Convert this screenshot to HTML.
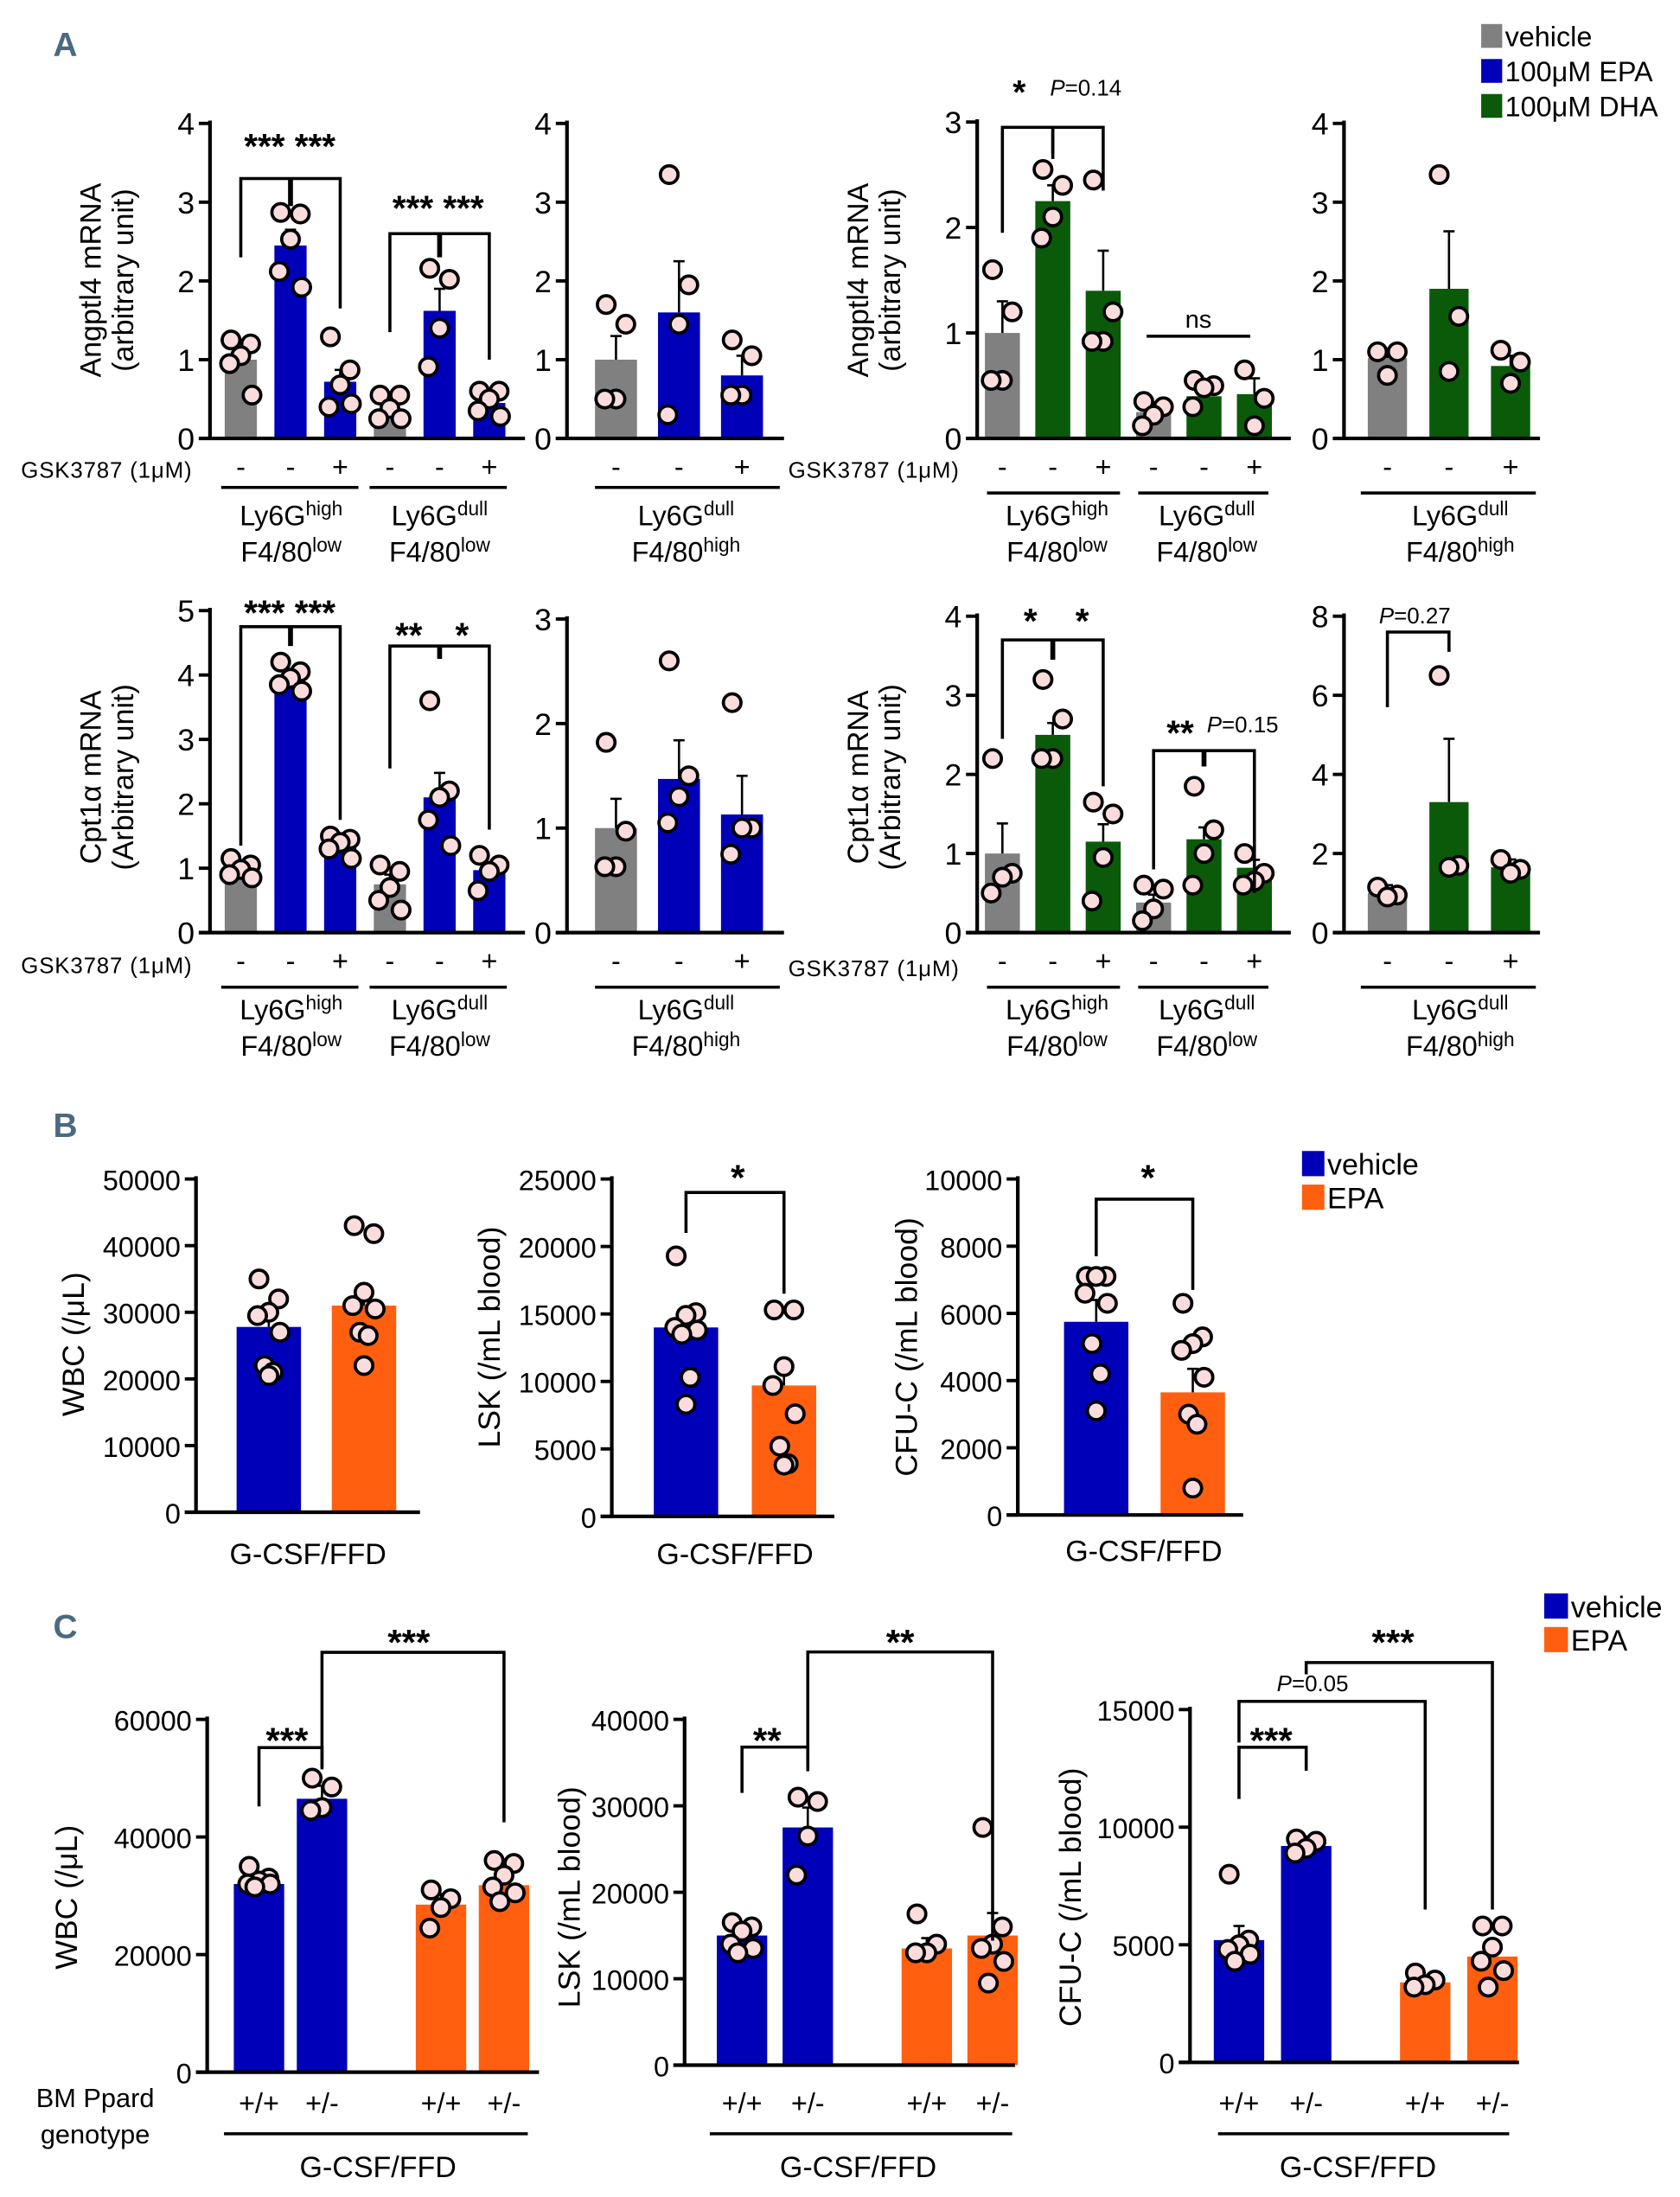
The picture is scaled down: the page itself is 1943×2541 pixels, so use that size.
<!DOCTYPE html>
<html><head><meta charset="utf-8">
<style>
html,body{margin:0;padding:0;background:#fff;}
svg{display:block;font-family:"Liberation Sans",Arial,sans-serif;}
</style></head>
<body>
<svg id="fig" width="1943" height="2541" viewBox="0 0 1200 1569" xmlns="http://www.w3.org/2000/svg">
<text x="38" y="40" font-size="24" font-weight="bold" fill="#4a6a80">A</text>
<text x="38" y="812" font-size="24" font-weight="bold" fill="#4a6a80">B</text>
<text x="38" y="1170" font-size="24" font-weight="bold" fill="#4a6a80">C</text>
</svg>
<script>
// ---------- DATA ----------
const A1_vals=[1.0,2.45,0.72,0.37,1.62,0.45];
const A1_err=[0.12,0.2,0.15,0.06,0.28,0.08];
const A1_pts=[[1.25,1.2,1.05,0.95,0.55],[2.87,2.85,2.53,2.12,1.92],[1.29,0.87,0.68,0.4,0.44],[0.55,0.55,0.38,0.25,0.25],[2.16,2.02,1.4,0.91],[0.6,0.6,0.5,0.35,0.28]];
const A2_vals=[1.0,1.6,0.8];
const A2_err=[0.3,0.65,0.25];
const A2_pts=[[1.7,1.45,0.5,0.5],[3.35,1.95,1.45,0.3],[1.25,1.05,0.55,0.55]];
const A3_vals=[1.0,2.25,1.4,0.25,0.4,0.42];
const A3_err=[0.3,0.15,0.38,0.08,0.06,0.15];
const A3_pts=[[1.6,1.2,0.55,0.55],[2.55,2.4,2.1,1.9],[2.45,1.2,0.92,0.92],[0.35,0.3,0.22,0.12],[0.55,0.5,0.48,0.3],[0.65,0.38,0.12]];
const A4_vals=[1.02,1.9,0.92];
const A4_err=[0.12,0.73,0.13];
const A4_pts=[[1.1,1.1,0.8],[3.35,1.55,0.85],[1.12,0.97,0.7]];
const A5_vals=[1.0,3.85,1.4,0.75,2.1,0.97];
const A5_err=[0.07,0.15,0.08,0.15,0.38,0.12];
const A5_pts=[[1.15,1.05,0.98,0.9,0.85],[4.2,4.05,3.95,3.85,3.75],[1.5,1.45,1.4,1.3,1.15],[1.05,0.95,0.7,0.5,0.35],[3.6,2.2,2.1,1.75,1.35],[1.2,1.05,0.95,0.65]];
const A6_vals=[1.0,1.47,1.13];
const A6_err=[0.28,0.37,0.37];
const A6_pts=[[1.82,0.97,0.63,0.63],[2.6,1.5,1.3,1.05],[2.2,1.0,1.0,0.75]];
const A7_vals=[1.0,2.5,1.15,0.38,1.18,0.82];
const A7_err=[0.38,0.15,0.22,0.1,0.15,0.1];
const A7_pts=[[2.2,0.75,0.7,0.5],[3.2,2.7,2.2,2.2],[1.65,1.5,0.95,0.4],[0.6,0.55,0.3,0.15],[1.85,1.3,1.0,0.6],[1.0,0.75,0.65,0.6]];
const A8_vals=[1.0,3.3,1.65];
const A8_err=[0.2,1.6,0.2];
const A8_pts=[[1.15,0.95,0.9],[6.5,1.7,1.65],[1.85,1.6,1.5]];
const B1_vals=[27800,31000];
const B1_err=[2200,2500];
const B1_pts=[[35000,32000,30000,29500,27000,22000,21000,20500],[43000,41800,33000,31000,30500,27000,26500,22000]];
const B2_vals=[14000,9700];
const B2_err=[1200,1700];
const B2_pts=[[19300,15100,14900,14000,13800,13500,10300,8300],[15300,15300,11100,9700,7600,5200,3900,3800]];
const B3_vals=[5750,3650];
const B3_err=[650,700];
const B3_pts=[[7100,7100,7100,6600,6300,5100,4200,3100],[6300,5300,5100,4900,4100,3000,2700,800]];
const C1_vals=[32000,46500,28500,31800];
const C1_err=[1500,2200,1800,1600];
const C1_pts=[[35000,33000,32500,32000,32000,31500],[50000,48500,45000,44500],[31000,29500,28000,24500],[36000,35500,33500,31500,30500,29000]];
const C2_vals=[15000,27500,13500,15000];
const C2_err=[1000,2300,1200,2600];
const C2_pts=[[16500,16000,15500,14000,13500,13000],[31000,30500,26500,22000],[17500,14000,13000,13000],[27500,16000,14000,13500,12000,9500]];
const C3_vals=[5200,9200,3400,4500];
const C3_err=[600,400,200,600];
const C3_pts=[[8000,5200,5000,4800,4600,4300],[9500,9400,9100,8900],[3800,3500,3300,3200],[5800,5800,4900,4300,3900,3200]];
const ticksA4=[0,1,2,3,4], ticksA3=[0,1,2,3], ticksA5=[0,1,2,3,4,5], ticksA8=[0,2,4,6,8];
const ticksB1=[0,10000,20000,30000,40000,50000], ticksB2=[0,5000,10000,15000,20000,25000], ticksB3=[0,2000,4000,6000,8000,10000];
const ticksC1=[0,20000,40000,60000], ticksC2=[0,10000,20000,30000,40000], ticksC3=[0,5000,10000,15000];
const gsk6=['-','-','+','-','-','+'], gsk3=['-','-','+'], geno=['+/+','+/-','+/+','+/-'];

// ---------- DRAW ----------
const NS='http://www.w3.org/2000/svg';
const svg=document.getElementById('fig');
const GRAY='#808080',BLUE='#0000b8',GREEN='#0a5a0a',ORANGE='#ff5f0f';
function mk(tag,attrs,parent){const e=document.createElementNS(NS,tag);for(const k in attrs)e.setAttribute(k,attrs[k]);(parent||svg).appendChild(e);return e;}
function txt(x,y,s,size,anchor,parent,extra){const t=mk('text',Object.assign({x:x,y:y,'font-size':size,'text-anchor':anchor||'middle'},extra||{}),parent);t.textContent=s;return t;}
const jit=[-7,7,0,-8,8,-3,3,0];

function panel(id,L,vals,err,pts,ticks,colors){
  const g=mk('g',{});
  
  
  const ys=v=>L.y0-(v/L.max)*(L.y0-L.top);
  const xs=i=>L.x0+i*L.step+(L.gapAt!==undefined&&i>=L.gapAt?L.gap:0);
  const ax=mk('line',{x1:L.ox,y1:L.top-2,x2:L.ox,y2:L.y0,stroke:'#000','stroke-width':2.6},g);
  
  
  ticks.forEach(t=>{
    mk('line',{x1:L.ox-8,y1:ys(t),x2:L.ox,y2:ys(t),stroke:'#000','stroke-width':2.4},g);
    const tl=txt(L.ox-11,ys(t)+8,String(t),L.tfs||22,'end',g);
    
    
  });
  vals.forEach((v,i)=>{
    const x=xs(i);
    const r=mk('rect',{x:x-L.bw/2,y:ys(v),width:L.bw,height:L.y0-ys(v),fill:colors[i]},g);
    
    
    mk('line',{x1:x,y1:ys(v),x2:x,y2:ys(v+err[i]),stroke:'#000','stroke-width':1.6},g);
    mk('line',{x1:x-4,y1:ys(v+err[i]),x2:x+4,y2:ys(v+err[i]),stroke:'#000','stroke-width':1.6},g);
  });
  const xa=mk('line',{x1:L.ox-8,y1:L.y0,x2:L.xend,y2:L.y0,stroke:'#000','stroke-width':2.6},g);
  
  
  pts.forEach((arr,i)=>{arr.forEach((p,j)=>{
    const c=mk('circle',{cx:xs(i)+jit[j%jit.length],cy:ys(p),r:6.3,fill:'#fadcdc',stroke:'#000','stroke-width':2.3},g);
    
    
  });});
  (L.brackets||[]).forEach(b=>{
    const xa_=xs(b[0]),xb=xs(b[1]),yt=ys(b[2]);
    mk('path',{d:`M${xa_},${ys(b[3])}V${yt}H${xb}V${ys(b[4])}`,fill:'none',stroke:'#000','stroke-width':2.2},g);
    if(b[5]!==undefined) mk('line',{x1:xs(b[5]),y1:yt,x2:xs(b[5]),y2:ys(b[6]),stroke:'#000','stroke-width':3.5},g);
  });
  if(L.ytitle){
    const tg=mk('text',{transform:`translate(${L.ytx},${L.yty}) rotate(-90)`,'font-size':L.ytfs||21,'text-anchor':'middle'},g);
    
    
    L.ytitle.forEach((s,k)=>{const ts=mk('tspan',{x:0,dy:k?23:0},tg);ts.textContent=s;});
  }
  if(L.signs) L.signs.forEach((s,i)=>txt(xs(i),L.signY,s,20,'middle',g));
  return {g,xs,ys};
}
function ly6(g,x,y,a,b){
  const t1=mk('text',{x:x,y:y,'font-size':20,'text-anchor':'middle'},g);
  let s=mk('tspan',{},t1);s.textContent='Ly6G';s=mk('tspan',{'font-size':14,dy:-7},t1);s.textContent=a;
  const t2=mk('text',{x:x,y:y+26,'font-size':20,'text-anchor':'middle'},g);
  s=mk('tspan',{},t2);s.textContent='F4/80';s=mk('tspan',{'font-size':14,dy:-7},t2);s.textContent=b;
  
  
}
function hline(g,x1,x2,y){mk('line',{x1:x1,y1:y,x2:x2,y2:y,stroke:'#000','stroke-width':2.2},g);}
function ptext(g,x,y,val,size){const t=txt(x,y,'',size||16,'start',g);let ts=mk('tspan',{'font-style':'italic'},t);ts.textContent='P';ts=mk('tspan',{},t);ts.textContent=val;}
const B={'font-weight':'bold'};

const c6A=[GRAY,BLUE,BLUE,GRAY,BLUE,BLUE], c3A=[GRAY,BLUE,BLUE];
const c6D=[GRAY,GREEN,GREEN,GRAY,GREEN,GREEN], c3D=[GRAY,GREEN,GREEN];

// A1
let p=panel('chart-a1-angptl4-epa',{ox:150,y0:313,top:88,max:4,x0:172,step:35.5,bw:23,xend:375,signY:340,signs:gsk6,
 ytitle:['Angptl4 mRNA','(arbitrary unit)'],ytx:72,yty:200,
 brackets:[[0,2,3.3,2.3,1.65,1,2.95],[3,5,2.6,1.35,1.0,4,2.3]]},A1_vals,A1_err,A1_pts,ticksA4,c6A);
txt(207,113,'*** ***',25,'middle',p.g,B);
txt(313,157,'*** ***',25,'middle',p.g,B);
txt(15,341,'GSK3787 (1μM)',16,'start',p.g,{'letter-spacing':'0.5'});
hline(p.g,158,256,348);hline(p.g,264,362,348);
ly6(p.g,208,375,'high','low');ly6(p.g,314,375,'dull','low');
// A2
p=panel('chart-a2-angptl4-epa',{ox:405,y0:313,top:88,max:4,x0:440,step:45,bw:30,xend:560,signY:340,signs:gsk3},A2_vals,A2_err,A2_pts,ticksA4,c3A);
hline(p.g,425,557,348);ly6(p.g,490,375,'dull','high');
// A3
p=panel('chart-a3-angptl4-dha',{ox:698,y0:313,top:87,max:3,x0:716,step:36,bw:25,xend:922,signY:340,signs:gsk6,
 ytitle:['Angptl4 mRNA','(arbitrary unit)'],ytx:620,yty:200,
 brackets:[[0,1,2.95,1.95,2.65],[1,2,2.95,2.7,2.35]]},A3_vals,A3_err,A3_pts,ticksA3,c6D);
hline(p.g,819,893,240);txt(856,234,'ns',18,'middle',p.g);
txt(728,74,'*',24,'middle',p.g,B);
ptext(p.g,750,68,'=0.14');
txt(563,341,'GSK3787 (1μM)',16,'start',p.g,{'letter-spacing':'0.5'});
hline(p.g,705,800,352);hline(p.g,813,906,352);
ly6(p.g,755,375,'high','low');ly6(p.g,862,375,'dull','low');
// A4
p=panel('chart-a4-angptl4-dha',{ox:960,y0:313,top:88,max:4,x0:991,step:44,bw:28,xend:1100,signY:340,signs:gsk3},A4_vals,A4_err,A4_pts,ticksA4,c3D);
hline(p.g,972,1097,352);ly6(p.g,1043,375,'dull','high');
const lgA=mk('g',{});
[[GRAY,'vehicle',17],[BLUE,'100μM EPA',42],[GREEN,'100μM DHA',67]].forEach(e=>{mk('rect',{x:1058,y:e[2],width:15,height:17,fill:e[0]},lgA);txt(1075,e[2]+16,e[1],20,'start',lgA);});
// A5
p=panel('chart-a5-cpt1a-epa',{ox:150,y0:666,top:436,max:5,x0:172,step:35.5,bw:23,xend:375,signY:693,signs:gsk6,
 ytitle:['Cpt1α mRNA','(Arbitrary unit)'],ytx:72,yty:555,
 brackets:[[0,2,4.75,1.35,1.75,1,4.45],[3,5,4.45,2.55,1.6,4,4.25]]},A5_vals,A5_err,A5_pts,ticksA5,c6A);
txt(207,446,'*** ***',25,'middle',p.g,B);
txt(292,462,'**',25,'middle',p.g,B);txt(330,462,'*',25,'middle',p.g,B);
txt(15,695,'GSK3787 (1μM)',16,'start',p.g,{'letter-spacing':'0.5'});
hline(p.g,158,256,705);hline(p.g,264,362,705);
ly6(p.g,208,728,'high','low');ly6(p.g,314,728,'dull','low');
// A6
p=panel('chart-a6-cpt1a-epa',{ox:405,y0:666,top:442,max:3,x0:440,step:45,bw:30,xend:560,signY:693,signs:gsk3},A6_vals,A6_err,A6_pts,ticksA3,c3A);
hline(p.g,425,557,705);ly6(p.g,490,728,'dull','high');
// A7
p=panel('chart-a7-cpt1a-dha',{ox:698,y0:666,top:440,max:4,x0:716,step:36,bw:25,xend:922,signY:693,signs:gsk6,
 ytitle:['Cpt1α mRNA','(Arbitrary unit)'],ytx:620,yty:555,
 brackets:[[0,2,3.7,2.45,1.85,1,3.45],[3,5,2.3,0.8,0.5,4,2.1]]},A7_vals,A7_err,A7_pts,ticksA4,c6D);
txt(736,452,'*',25,'middle',p.g,B);txt(773,452,'*',25,'middle',p.g,B);
txt(843,532,'**',25,'middle',p.g,B);
ptext(p.g,862,523,'=0.15');
txt(563,697,'GSK3787 (1μM)',16,'start',p.g,{'letter-spacing':'0.5'});
hline(p.g,705,800,705);hline(p.g,813,906,705);
ly6(p.g,755,728,'high','low');ly6(p.g,862,728,'dull','low');
// A8
p=panel('chart-a8-cpt1a-dha',{ox:960,y0:666,top:440,max:8,x0:991,step:44,bw:28,xend:1100,signY:693,signs:gsk3,
 brackets:[[0,1,7.6,5.7,7.1]]},A8_vals,A8_err,A8_pts,ticksA8,c3D);
ptext(p.g,985,445,'=0.27');
hline(p.g,972,1097,705);ly6(p.g,1043,728,'dull','high');

// B
const cB=[BLUE,ORANGE];
p=panel('chart-b1-wbc',{ox:140,y0:1080,top:842,max:50000,x0:192,step:68,bw:46,xend:300,tfs:20,
 ytitle:['WBC (/μL)'],ytx:60,yty:960,ytfs:22},B1_vals,B1_err,B1_pts,ticksB1,cB);
txt(220,1117,'G-CSF/FFD',21,'middle',p.g);
p=panel('chart-b2-lsk',{ox:437,y0:1083,top:842,max:25000,x0:490,step:70,bw:46,xend:596,tfs:20,
 ytitle:['LSK (/mL blood)'],ytx:357,yty:955,ytfs:22,brackets:[[0,1,24000,21000,16500]]},B2_vals,B2_err,B2_pts,ticksB2,cB);
txt(527,850,'*',26,'middle',p.g,B);
txt(525,1117,'G-CSF/FFD',21,'middle',p.g);
p=panel('chart-b3-cfuc',{ox:727,y0:1082,top:842,max:10000,x0:783,step:69,bw:46,xend:888,tfs:20,
 ytitle:['CFU-C  (/mL blood)'],ytx:655,yty:962,ytfs:22,brackets:[[0,1,9400,7700,6700]]},B3_vals,B3_err,B3_pts,ticksB3,cB);
txt(820,850,'*',26,'middle',p.g,B);
txt(817,1115,'G-CSF/FFD',21,'middle',p.g);
const lgB=mk('g',{});
[[BLUE,'vehicle',822],[ORANGE,'EPA',846]].forEach(e=>{mk('rect',{x:930,y:e[2],width:16,height:18,fill:e[0]},lgB);txt(948,e[2]+17,e[1],21,'start',lgB);});

// C
const cC=[BLUE,BLUE,ORANGE,ORANGE];
p=panel('chart-c1-wbc',{ox:148,y0:1480,top:1228,max:60000,x0:185,step:45,bw:36,gapAt:2,gap:40,xend:385,tfs:20,signY:1509,signs:geno,
 ytitle:['WBC (/μL)'],ytx:55,yty:1355,ytfs:22,
 brackets:[[0,1,55200,45200,51800],[1,3,71400,51500,42500]]},C1_vals,C1_err,C1_pts,ticksC1,cC);
txt(205,1252,'***',26,'middle',p.g,B);txt(292,1182,'***',26,'middle',p.g,B);
hline(p.g,160,377,1524);txt(270,1555,'G-CSF/FFD',21,'middle',p.g);
txt(68,1505,'BM Ppard',19,'middle',p.g);txt(68,1531,'genotype',19,'middle',p.g);
p=panel('chart-c2-lsk',{ox:489,y0:1475,top:1228,max:40000,x0:530,step:47,bw:36,gapAt:2,gap:38,xend:725,tfs:20,signY:1509,signs:geno,
 ytitle:['LSK (/mL blood)'],ytx:414,yty:1355,ytfs:22,
 brackets:[[0,1,36800,31500,34000],[1,3,47800,35000,14400]]},C2_vals,C2_err,C2_pts,ticksC2,cC);
txt(548,1252,'**',26,'middle',p.g,B);txt(643,1182,'**',26,'middle',p.g,B);
hline(p.g,507,723,1524);txt(613,1555,'G-CSF/FFD',21,'middle',p.g);
p=panel('chart-c3-cfuc',{ox:850,y0:1473,top:1221,max:15000,x0:885,step:48,bw:36,gapAt:2,gap:37,xend:1085,tfs:20,signY:1509,signs:geno,
 ytitle:['CFU-C  (/mL blood)'],ytx:772,yty:1355,ytfs:22,
 brackets:[[0,1,13400,11200,12400],[0,2,15350,13600,6500],[1,3,17000,16500,6500]]},C3_vals,C3_err,C3_pts,ticksC3,cC);
txt(908,1252,'***',26,'middle',p.g,B);txt(995,1182,'***',26,'middle',p.g,B);
ptext(p.g,912,1208,'=0.05');
hline(p.g,870,1078,1524);txt(970,1555,'G-CSF/FFD',21,'middle',p.g);
const lgC=mk('g',{});
[[BLUE,'vehicle',1138],[ORANGE,'EPA',1162]].forEach(e=>{mk('rect',{x:1103,y:e[2],width:17,height:18,fill:e[0]},lgC);txt(1122,e[2]+17,e[1],21,'start',lgC);});
</script>
</body></html>
